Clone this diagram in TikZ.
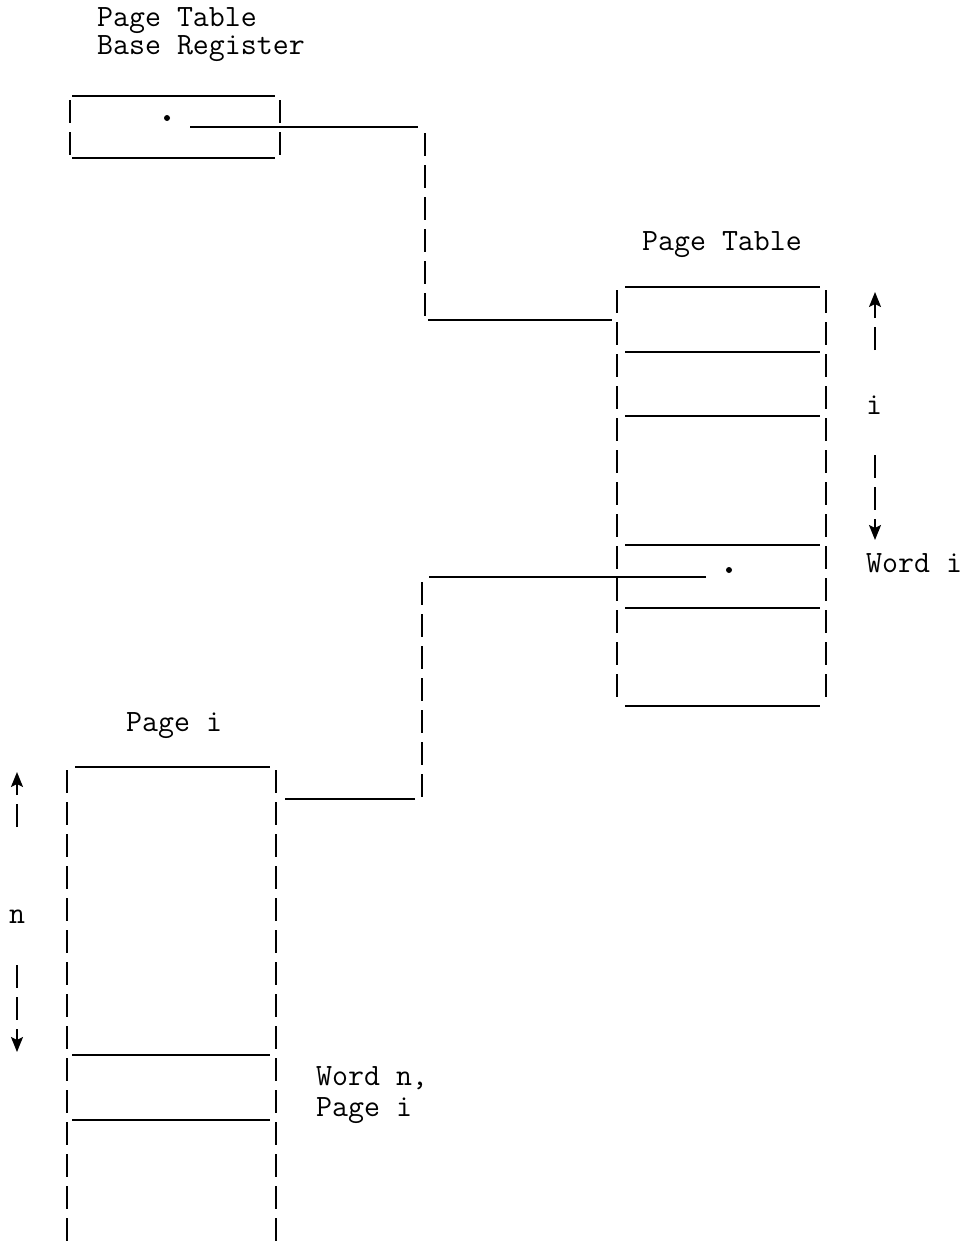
\documentclass[tikz,border=0pt]{standalone}
\usepackage{tikz}
\usetikzlibrary{arrows.meta}

\tikzset{
    rule/.style={line width=1.8pt},
    wall/.style={line width=1.8pt, dash pattern=on 23pt off 9pt},
    tip/.style={-{Stealth[length=15pt, width=12pt, inset=3pt]}},
    lbl/.style={anchor=base west, inner sep=0pt, font=\fontsize{31}{31}\selectfont\ttfamily},
    dot/.style={circle, fill, inner sep=0pt, minimum size=6pt}
}

\begin{document}
\begin{tikzpicture}[x=1pt, y=-1pt]
    \useasboundingbox (0,0) rectangle (964,1247);

    % Page Table Base Register
    \node[lbl] (ptbr-l1) at (97,27) {Page Table};
    \node[lbl] (ptbr-l2) at (97,55) {Base Register};
    \draw[rule] (72,96) -- (275,96);
    \draw[rule] (72,158) -- (275,158);
    \draw[wall] (70,100) -- (70,156);
    \draw[wall] (280,100) -- (280,156);
    \node[dot] (ptbr) at (167,118) {};

    % Page Table
    \node[lbl] (pt-l) at (642,250) {Page Table};
    \foreach \y in {287,352,416,545,608,706}
        \draw[rule] (625,\y) -- (820,\y);
    \draw[wall] (617,290) -- (617,705);
    \draw[wall] (826,290) -- (826,705);
    \node[dot] (pte) at (729,570) {};
    \coordinate (pt-w) at (612,320);

    % index i
    \draw[wall,tip] (875,350) -- (875,292);
    \node[lbl, anchor=base] (i) at (874,414) {i};
    \draw[wall,tip] (875,455) -- (875,540);
    \node[lbl] (wi) at (866,572) {Word i};

    % Page i
    \node[lbl] (pg-l) at (126,731) {Page i};
    \draw[rule] (75,767) -- (270,767);
    \foreach \y in {1055,1120}
        \draw[rule] (72,\y) -- (270,\y);
    \draw[wall] (67,770) -- (67,1247);
    \draw[wall] (276,770) -- (276,1247);
    \coordinate (pg-e) at (285,799);

    % index n
    \draw[wall,tip] (17,827) -- (17,772);
    \node[lbl, anchor=base] (n) at (17,923) {n};
    \draw[wall,tip] (17,965) -- (17,1052);
    \node[lbl] (wn1) at (316,1085) {Word n,};
    \node[lbl] (wn2) at (316,1116) {Page i};

    % connectors
    \coordinate (c1) at (425,127);
    \coordinate (c2) at (425,320);
    \draw[rule] ([shift={(23,9)}]ptbr.center) -- ([xshift=-7pt]c1);
    \draw[wall] ([yshift=-6pt]c1) -- (c2);
    \draw[rule] ([xshift=3pt]c2) -- (pt-w);

    \coordinate (c3) at (422,577);
    \coordinate (c4) at (422,799);
    \draw[rule] ([shift={(-23,7)}]pte.center) -- ([xshift=7pt]c3);
    \draw[wall] ([yshift=-5pt]c3) -- (c4);
    \draw[rule] ([xshift=-7pt]c4) -- (pg-e);
\end{tikzpicture}
\end{document}
